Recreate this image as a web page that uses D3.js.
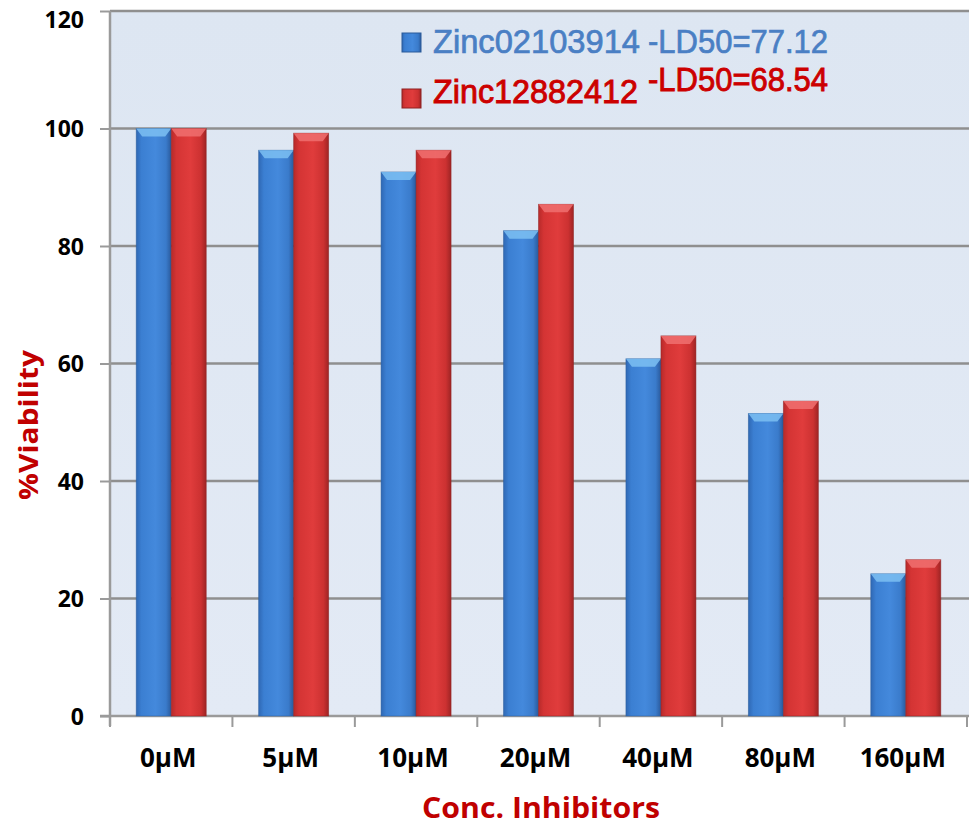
<!DOCTYPE html>
<html><head><meta charset="utf-8">
<script src="https://cdn.jsdelivr.net/npm/d3@7"></script>
<style>body{margin:0;background:#fff}svg{display:block}</style>
</head><body>
<svg id="c" width="969" height="825"></svg>
<script>
const categories = ["0µM","5µM","10µM","20µM","40µM","80µM","160µM"];
const seriesNames = ["Zinc02103914","Zinc12882412"];
const seriesLD50 = ["-LD50=77.12","-LD50=68.54"];
const blueValues = [100, 96.3, 92.6, 82.6, 60.8, 51.5, 24.2];
const redValues  = [100, 99.2, 96.3, 87.1, 64.7, 53.6, 26.6];
const yTicks = [0,20,40,60,80,100,120];

const svg = d3.select("#c");
const L = 110, R = 967, T = 11, B = 716;
const defs = svg.append("defs");
function grad(id, stops){
  const g = defs.append("linearGradient").attr("id", id).attr("x1","0").attr("x2","1").attr("y1","0").attr("y2","0");
  stops.forEach(s=>g.append("stop").attr("offset",s[0]).attr("stop-color",s[1]));
}
grad("gb",[[0,"#2f68b4"],[0.15,"#3b7fd2"],[0.55,"#4489dc"],[0.85,"#3a7bcb"],[1,"#2a5a9c"]]);
grad("gr",[[0,"#b72a2a"],[0.15,"#d43434"],[0.55,"#e03c3c"],[0.85,"#cc3131"],[1,"#9e2424"]]);
const bgG = defs.append("linearGradient").attr("id","bg").attr("x1","0").attr("x2","0").attr("y1","0").attr("y2","1");
bgG.append("stop").attr("offset",0).attr("stop-color","#dde6f2");
bgG.append("stop").attr("offset",1).attr("stop-color","#e3eaf5");

const y = d3.scaleLinear().domain([0,120]).range([B,T]);
const x0 = d3.scaleBand().domain(categories).range([L,R]).paddingInner(0.428).paddingOuter(0.214);
const x1 = d3.scaleBand().domain([0,1]).range([0,x0.bandwidth()]);
const step = x0.step();

svg.append("rect").attr("x",L).attr("y",T).attr("width",R-L+2).attr("height",B-T).attr("fill","url(#bg)");

// gridlines
svg.append("g").selectAll("line").data(yTicks.filter(d=>d>0)).join("line")
  .attr("x1",L).attr("x2",969).attr("y1",d=>y(d)).attr("y2",d=>y(d))
  .attr("stroke","#8f8f8f").attr("stroke-width",2.5);

// y axis
const ya = svg.append("g").attr("transform",`translate(${L},0)`)
  .call(d3.axisLeft(y).tickValues(yTicks).tickSize(10).tickPadding(16));
ya.select(".domain").attr("stroke","#9a9a9a").attr("stroke-width",2.5).attr("d",`M0,${T}V${B+10}`);
ya.selectAll(".tick line").attr("stroke","#9a9a9a").attr("stroke-width",2);
ya.selectAll(".tick text").attr("font-family","'Open Sans', Arial, sans-serif").attr("font-weight","bold")
  .attr("font-size","23px").attr("fill","#000").attr("dy",d=>d===120?"0.7em":"0.36em");

// x axis
const xa = svg.append("g");
xa.append("line").attr("x1",L-10).attr("x2",969).attr("y1",B).attr("y2",B).attr("stroke","#9a9a9a").attr("stroke-width",2.5);
xa.selectAll("line.t").data(d3.range(categories.length+1)).join("line").attr("class","t")
  .attr("x1",i=>L+i*step).attr("x2",i=>L+i*step).attr("y1",B).attr("y2",B+11)
  .attr("stroke","#9a9a9a").attr("stroke-width",2);
xa.selectAll("text").data(categories).join("text")
  .attr("x",d=>x0(d)+x0.bandwidth()/2-3).attr("y",767).attr("text-anchor","middle")
  .attr("font-family","'Open Sans', Arial, sans-serif").attr("font-weight","bold").attr("font-size","26px")
  .attr("fill","#000").text(d=>d);

// bars
const data = categories.map((c,i)=>({c, v:[blueValues[i], redValues[i]]}));
const fills = ["url(#gb)","url(#gr)"];
const tops = ["#7cc0f2","#f07070"];
const strokes = ["#2a5b9a","#8e2020"];
const g = svg.append("g");
data.forEach(d=>{
  d.v.forEach((v,s)=>{
    const bx = x0(d.c)+x1(s), bw = x1.bandwidth(), by = y(v), bh = B - y(v);
    g.append("rect").attr("x",bx).attr("y",by).attr("width",bw).attr("height",bh)
      .attr("fill",fills[s]).attr("stroke",strokes[s]).attr("stroke-width",0.8).attr("stroke-opacity",0.6);
    g.append("path").attr("d",`M${bx},${by}L${bx+bw},${by}L${bx+bw-6},${by+8}L${bx+6},${by+8}Z`)
      .attr("fill",tops[s]).attr("opacity",0.85);
  });
});

// legend
const leg = svg.append("g").attr("font-family","Arial, 'Liberation Sans', sans-serif").attr("font-size","33px");
leg.append("rect").attr("x",402).attr("y",33).attr("width",19).attr("height",19).attr("fill","url(#gb)").attr("stroke","#2a5b9a");
leg.append("text").attr("x",433).attr("y",53).attr("fill","#4a7fc4").attr("stroke","#4a7fc4").attr("stroke-width",0.7).attr("textLength",207).attr("lengthAdjust","spacingAndGlyphs").text(seriesNames[0]);
leg.append("text").attr("x",648).attr("y",53).attr("fill","#4a7fc4").attr("stroke","#4a7fc4").attr("stroke-width",0.7).attr("textLength",180).attr("lengthAdjust","spacingAndGlyphs").text(seriesLD50[0]);
leg.append("rect").attr("x",402).attr("y",89).attr("width",19).attr("height",19).attr("fill","url(#gr)").attr("stroke","#8e2020");
leg.append("text").attr("x",433).attr("y",103).attr("fill","#cc0000").attr("stroke","#cc0000").attr("stroke-width",0.9).attr("textLength",205).attr("lengthAdjust","spacingAndGlyphs").text(seriesNames[1]);
leg.append("text").attr("x",648).attr("y",91).attr("fill","#cc0000").attr("stroke","#cc0000").attr("stroke-width",0.9).attr("textLength",180).attr("lengthAdjust","spacingAndGlyphs").text(seriesLD50[1]);

// axis titles
svg.append("text").attr("transform","translate(38,425) rotate(-90)").attr("text-anchor","middle")
  .attr("font-family","'Open Sans', Arial, sans-serif").attr("font-weight","bold").attr("font-size","27px")
  .attr("fill","#c00000").attr("textLength",150).attr("lengthAdjust","spacingAndGlyphs").text("%Viability");
svg.append("text").attr("x",422).attr("y",818)
  .attr("font-family","'Open Sans', Arial, sans-serif").attr("font-weight","bold").attr("font-size","29px")
  .attr("fill","#c00000").attr("textLength",238).attr("lengthAdjust","spacingAndGlyphs").text("Conc. Inhibitors");
</script>
</body></html>
